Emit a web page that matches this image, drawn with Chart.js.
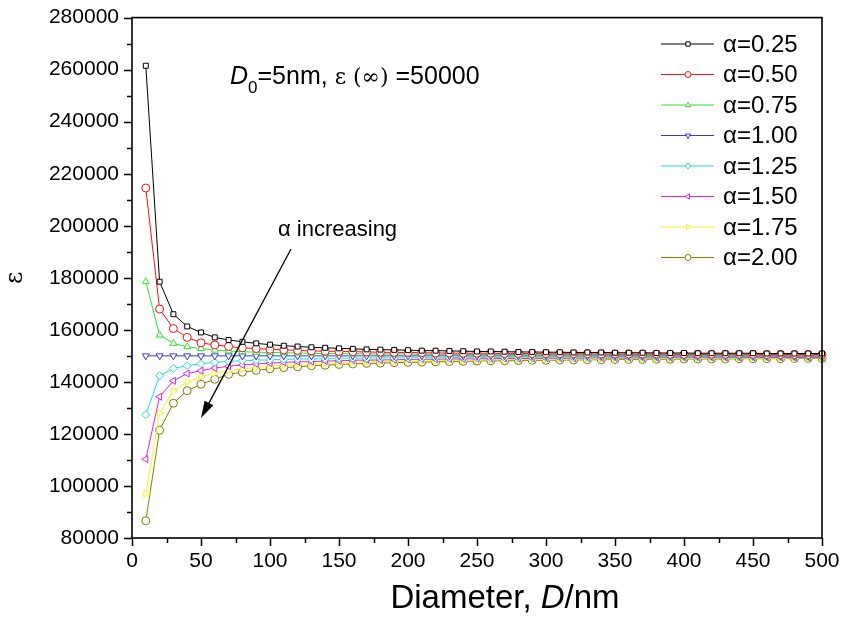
<!DOCTYPE html>
<html>
<head>
<meta charset="utf-8">
<script src="https://cdn.jsdelivr.net/npm/chart.js@4.4.0/dist/chart.umd.min.js"></script>
<style>
  html, body { margin: 0; padding: 0; background: #fff; }
</style>
</head>
<body>
<canvas id="epsChart" width="846" height="622"></canvas>
<script>
// Diameter grid (nm)
const diameters = [10, 20, 30, 40, 50, 60, 70, 80, 90, 100,
  110, 120, 130, 140, 150, 160, 170, 180, 190, 200,
  210, 220, 230, 240, 250, 260, 270, 280, 290, 300,
  310, 320, 330, 340, 350, 360, 370, 380, 390, 400,
  410, 420, 430, 440, 450, 460, 470, 480, 490, 500];

// permittivity for each alpha
const eps025 = [261500, 178500, 166000, 161300, 159000, 157100, 156100, 155400, 154800, 154300,
  153900, 153600, 153300, 153100, 152900, 152700, 152500, 152400, 152300, 152200,
  152000, 152000, 151900, 151800, 151700, 151700, 151600, 151500, 151500, 151400,
  151400, 151300, 151300, 151300, 151200, 151200, 151200, 151100, 151100, 151100,
  151000, 151000, 151000, 151000, 151000, 150900, 150900, 150900, 150900, 150900];
const eps050 = [214500, 168000, 160500, 157100, 155000, 154200, 153600, 153100, 152800, 152500,
  152300, 152100, 151900, 151800, 151700, 151600, 151500, 151400, 151300, 151300,
  151200, 151100, 151100, 151000, 151000, 151000, 150900, 150900, 150900, 150800,
  150800, 150800, 150800, 150700, 150700, 150700, 150700, 150700, 150600, 150600,
  150600, 150600, 150600, 150600, 150600, 150500, 150500, 150500, 150500, 150500];
const eps075 = [178500, 158000, 154800, 153500, 152800, 152200, 151900, 151600, 151400, 151300,
  151200, 151100, 151000, 150900, 150900, 150800, 150800, 150700, 150700, 150700,
  150600, 150600, 150600, 150500, 150500, 150500, 150500, 150500, 150400, 150400,
  150400, 150400, 150400, 150400, 150400, 150400, 150400, 150300, 150300, 150300,
  150300, 150300, 150300, 150300, 150300, 150300, 150300, 150300, 150300, 150300];
const eps100 = [150000, 150000, 150000, 150000, 150000, 150000, 150000, 150000, 150000, 150000,
  150000, 150000, 150000, 150000, 150000, 150000, 150000, 150000, 150000, 150000,
  150000, 150000, 150000, 150000, 150000, 150000, 150000, 150000, 150000, 150000,
  150000, 150000, 150000, 150000, 150000, 150000, 150000, 150000, 150000, 150000,
  150000, 150000, 150000, 150000, 150000, 150000, 150000, 150000, 150000, 150000];
const eps125 = [127400, 142400, 145200, 146200, 147000, 147500, 147900, 148100, 148300, 148500,
  148600, 148800, 148800, 148900, 149000, 149100, 149100, 149200, 149200, 149300,
  149300, 149300, 149300, 149400, 149400, 149400, 149400, 149500, 149500, 149500,
  149500, 149500, 149500, 149600, 149600, 149600, 149600, 149600, 149600, 149600,
  149600, 149600, 149600, 149600, 149700, 149700, 149700, 149700, 149700, 149700];
const eps150 = [110300, 134300, 140400, 143200, 144300, 145300, 146000, 146500, 146900, 147200,
  147500, 147700, 147800, 148000, 148100, 148300, 148400, 148400, 148500, 148600,
  148700, 148700, 148800, 148800, 148900, 148900, 149000, 149000, 149000, 149100,
  149100, 149100, 149200, 149200, 149200, 149200, 149200, 149300, 149300, 149300,
  149300, 149300, 149300, 149400, 149400, 149400, 149400, 149400, 149400, 149400];
const eps175 = [97000, 128000, 136500, 140000, 142000, 143400, 144300, 145000, 145600, 146000,
  146400, 146700, 146900, 147100, 147300, 147500, 147600, 147800, 147900, 148000,
  148100, 148200, 148300, 148300, 148400, 148500, 148500, 148600, 148600, 148700,
  148700, 148800, 148800, 148800, 148900, 148900, 148900, 148900, 149000, 149000,
  149000, 149000, 149100, 149100, 149100, 149100, 149100, 149200, 149200, 149200];
const eps200 = [86600, 121400, 131800, 136600, 139100, 141000, 142900, 143700, 144400, 145000,
  145500, 145800, 146200, 146400, 146700, 146900, 147100, 147200, 147400, 147500,
  147600, 147700, 147800, 147900, 148000, 148100, 148100, 148200, 148300, 148300,
  148400, 148400, 148500, 148500, 148600, 148600, 148600, 148700, 148700, 148800,
  148800, 148800, 148800, 148900, 148900, 148900, 148900, 149000, 149000, 149000];

const seriesLabels = ['α=0.25', 'α=0.50', 'α=0.75', 'α=1.00', 'α=1.25', 'α=1.50', 'α=1.75', 'α=2.00'];
const xTicks = [0, 50, 100, 150, 200, 250, 300, 350, 400, 450, 500];
const yTicks = [80000, 100000, 120000, 140000, 160000, 180000, 200000, 220000, 240000, 260000, 280000];

const allSeries = [eps025, eps050, eps075, eps100, eps125, eps150, eps175, eps200];
const colors = ['#000000', '#f01010', '#33dd33', '#3a3ad0', '#22dddd', '#dd22dd', '#f5f520', '#808000'];
const markers = [
  { style: 'rect', rot: 0, r: 3.5 },
  { style: 'circle', rot: 0, r: 4 },
  { style: 'triangle', rot: 0, r: 4 },
  { style: 'triangle', rot: 180, r: 4 },
  { style: 'rectRot', rot: 0, r: 4 },
  { style: 'triangle', rot: 270, r: 4 },
  { style: 'triangle', rot: 90, r: 4 },
  { style: 'circle', rot: 0, r: 4 }
];

const FONT = "'Liberation Sans', Arial, sans-serif";
const SERIF = "'DejaVu Serif', 'Liberation Serif', serif";

const datasets = allSeries.map((vals, i) => ({
  label: seriesLabels[i],
  data: diameters.map((d, k) => ({ x: d, y: vals[k] })),
  borderColor: colors[i],
  borderWidth: 1,
  pointStyle: markers[i].style,
  rotation: markers[i].rot,
  pointRadius: markers[i].r,
  pointBorderWidth: 1,
  pointBorderColor: colors[i],
  pointBackgroundColor: '#ffffff',
  tension: 0,
  clip: 6
}));

// frame, minor/major ticks, legend, annotations
const decorations = {
  id: 'decorations',
  afterDraw(chart) {
    const ctx = chart.ctx;
    const a = chart.chartArea;
    const xs = chart.scales.x, ys = chart.scales.y;
    ctx.save();

    // ticks
    ctx.strokeStyle = '#000';
    ctx.lineWidth = 1.5;
    for (let v = 0; v <= 500; v += 25) {
      const px = Math.round(xs.getPixelForValue(v)) + 0.5;
      const len = v % 50 === 0 ? 8 : 5;
      ctx.beginPath(); ctx.moveTo(px, a.bottom); ctx.lineTo(px, a.bottom + len); ctx.stroke();
    }
    for (let v = 80000; v <= 280000; v += 10000) {
      const py = Math.round(ys.getPixelForValue(v)) + 0.5;
      const len = v % 20000 === 0 ? 8 : 5;
      ctx.beginPath(); ctx.moveTo(a.left, py); ctx.lineTo(a.left - len, py); ctx.stroke();
    }

    // frame
    ctx.lineWidth = 1.6;
    ctx.strokeRect(a.left, a.top, a.right - a.left, a.bottom - a.top);

    // legend
    ctx.textBaseline = 'middle';
    ctx.textAlign = 'left';
    ctx.font = '24px ' + FONT;
    chart.data.datasets.forEach((ds, i) => {
      const y = 44 + i * 30.5;
      ctx.strokeStyle = ds.borderColor;
      ctx.lineWidth = 1;
      ctx.beginPath(); ctx.moveTo(661, y); ctx.lineTo(714, y); ctx.stroke();
      ctx.fillStyle = '#ffffff';
      Chart.helpers.drawPoint(ctx, {
        pointStyle: ds.pointStyle, rotation: ds.rotation, radius: 3, borderWidth: 1
      }, 688, y);
      ctx.fillStyle = '#000';
      ctx.fillText(ds.label, 723, y + 1);
    });

    // D0 / eps(inf) note
    ctx.textBaseline = 'alphabetic';
    let x = 230;
    const base = 84;
    ctx.font = 'italic 25px ' + FONT;
    ctx.fillText('D', x, base); x += ctx.measureText('D').width;
    ctx.font = '17px ' + FONT;
    ctx.fillText('0', x, base + 9); x += ctx.measureText('0').width;
    ctx.font = '25px ' + FONT;
    ctx.fillText('=5nm, ', x, base); x += ctx.measureText('=5nm, ').width;
    ctx.font = '22px ' + SERIF;
    ctx.fillText('ε', x, base); x += ctx.measureText('ε ').width;
    ctx.fillText('(∞)', x, base); x += ctx.measureText('(∞) ').width;
    ctx.font = '25px ' + FONT;
    ctx.fillText('=50000', x, base);

    // alpha increasing + arrow
    ctx.font = '22px ' + FONT;
    ctx.fillText('α increasing', 278, 236);
    const x0 = 291, y0 = 249, x1 = 201, y1 = 418;
    const ang = Math.atan2(y1 - y0, x1 - x0);
    ctx.strokeStyle = '#000'; ctx.fillStyle = '#000'; ctx.lineWidth = 1.3;
    ctx.beginPath(); ctx.moveTo(x0, y0);
    ctx.lineTo(x1 - 12 * Math.cos(ang), y1 - 12 * Math.sin(ang)); ctx.stroke();
    ctx.beginPath();
    ctx.moveTo(x1, y1);
    ctx.lineTo(x1 - 17 * Math.cos(ang) + 5 * Math.sin(ang), y1 - 17 * Math.sin(ang) - 5 * Math.cos(ang));
    ctx.lineTo(x1 - 17 * Math.cos(ang) - 5 * Math.sin(ang), y1 - 17 * Math.sin(ang) + 5 * Math.cos(ang));
    ctx.closePath(); ctx.fill();

    // axis titles
    ctx.textBaseline = 'alphabetic';
    const t1 = 'Diameter, ', t2 = 'D', t3 = '/nm';
    ctx.font = '33px ' + FONT;
    const w1 = ctx.measureText(t1).width, w3 = ctx.measureText(t3).width;
    ctx.font = 'italic 33px ' + FONT;
    const w2 = ctx.measureText(t2).width;
    let tx = 505 - (w1 + w2 + w3) / 2;
    const ty = 608;
    ctx.font = '33px ' + FONT; ctx.fillText(t1, tx, ty); tx += w1;
    ctx.font = 'italic 33px ' + FONT; ctx.fillText(t2, tx, ty); tx += w2;
    ctx.font = '33px ' + FONT; ctx.fillText(t3, tx, ty);

    ctx.translate(16, (a.top + a.bottom) / 2);
    ctx.rotate(-Math.PI / 2);
    ctx.textAlign = 'center';
    ctx.textBaseline = 'middle';
    ctx.font = '24px ' + SERIF;
    ctx.fillText('ε', 0, 0);
    ctx.restore();
  }
};

new Chart(document.getElementById('epsChart'), {
  type: 'line',
  data: { datasets },
  options: {
    responsive: false,
    animation: false,
    layout: { padding: { left: 0, top: 17, right: 24, bottom: 0 } },
    plugins: { legend: { display: false }, tooltip: { enabled: false } },
    scales: {
      x: {
        type: 'linear', min: 0, max: 500,
        afterBuildTicks: s => { s.ticks = xTicks.map(v => ({ value: v })); },
        afterFit: s => { s.height = 84; },
        grid: { display: false, drawTicks: true, tickLength: 8 },
        border: { display: false },
        ticks: { color: '#000', font: { family: FONT, size: 21 }, padding: 3, maxRotation: 0, autoSkip: false,
          callback: v => String(v) }
      },
      y: {
        type: 'linear', min: 80000, max: 280000,
        afterBuildTicks: s => { s.ticks = yTicks.map(v => ({ value: v })); },
        afterFit: s => { s.width = 132; },
        grid: { display: false, drawTicks: true, tickLength: 8 },
        border: { display: false },
        ticks: { color: '#000', font: { family: FONT, size: 21 }, padding: 5, autoSkip: false,
          callback: v => String(v) }
      }
    }
  },
  plugins: [decorations]
});
</script>
</body>
</html>
